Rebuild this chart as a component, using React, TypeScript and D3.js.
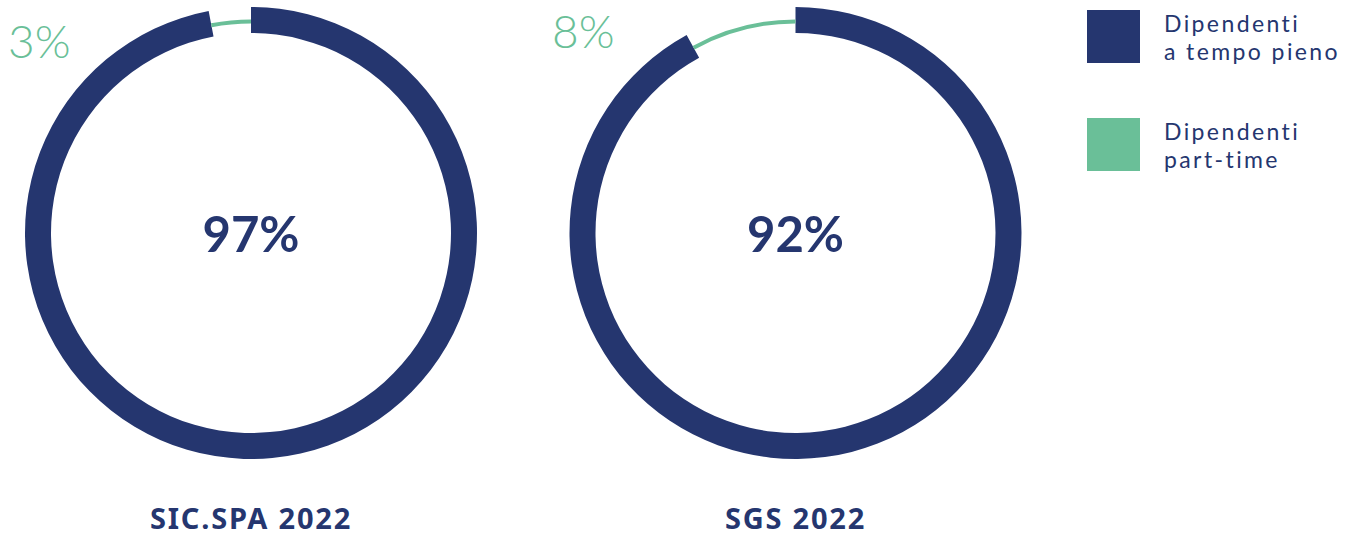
import React from "react";
import * as d3 from "d3";

const chartTitles = ["SIC.SPA 2022", "SGS 2022"];
const fullTimeValues = [97, 92];
const partTimeValues = [3, 8];
const seriesNames = ["Dipendenti a tempo pieno", "Dipendenti part-time"];
const legendLines = [["Dipendenti", "a tempo pieno"], ["Dipendenti", "part-time"]];

const NAVY = "#25366F";
const GREEN = "#6ABF98";
const FONT = "Lato, 'Noto Sans', sans-serif";
const FONT2 = "'Noto Sans', 'Open Sans', sans-serif";

const W = 1366;
const H = 537;
const CY = 233;
const R_OUT = 226;
const R_IN = 200;
const G_OUT = 213.5;
const G_IN = 209.5;

// small-label anchor positions (x, baseline) per chart
const smallLabelPos = [
  [8, 58],
  [552, 48],
];

export default function App() {
  const xScale = d3.scalePoint<string>().domain(chartTitles).range([251, 795.5]);
  const pie = d3.pie<number>().sort(null).value((d) => d);
  const darkArc = d3.arc<d3.PieArcDatum<number>>().innerRadius(R_IN).outerRadius(R_OUT);
  const greenArc = d3.arc<d3.PieArcDatum<number>>().innerRadius(G_IN).outerRadius(G_OUT);

  return (
    <svg
      width={W}
      height={H}
      style={{ position: "absolute", left: 0, top: 0, background: "#fff" }}
      fontFamily={FONT}
    >
      {chartTitles.map((title, i) => {
        const cx = xScale(title) as number;
        const arcs = pie([fullTimeValues[i], partTimeValues[i]]);
        return (
          <g key={title}>
            <g transform={`translate(${cx},${CY})`}>
              <path d={darkArc(arcs[0]) as string} fill={NAVY} />
              <path d={greenArc(arcs[1]) as string} fill={GREEN} />
              <text
                x={0}
                y={19}
                textAnchor="middle"
                fontSize={49}
                fontWeight={700}
                fill={NAVY}
              >
                {fullTimeValues[i]}%
              </text>
            </g>
            <text
              x={smallLabelPos[i][0]}
              y={smallLabelPos[i][1]}
              fontSize={46}
              fontWeight={300}
              fill={GREEN}
            >
              {partTimeValues[i]}%
            </text>
            <text
              x={cx}
              y={529}
              textAnchor="middle"
              fontFamily={FONT2}
              fontSize={29}
              fontWeight={700}
              letterSpacing={1.8}
              fill={NAVY}
            >
              {title}
            </text>
          </g>
        );
      })}
      {seriesNames.map((name, i) => (
        <g key={name} transform={`translate(1087,${10 + i * 108})`}>
          <rect width={53} height={53} fill={i === 0 ? NAVY : GREEN} />
          {legendLines[i].map((line, j) => (
            <text
              key={j}
              x={77}
              y={22 + j * 27.6}
              fontFamily={FONT}
              fontSize={23}
              letterSpacing={2.4}
              fill={NAVY}
            >
              {line}
            </text>
          ))}
        </g>
      ))}
    </svg>
  );
}
